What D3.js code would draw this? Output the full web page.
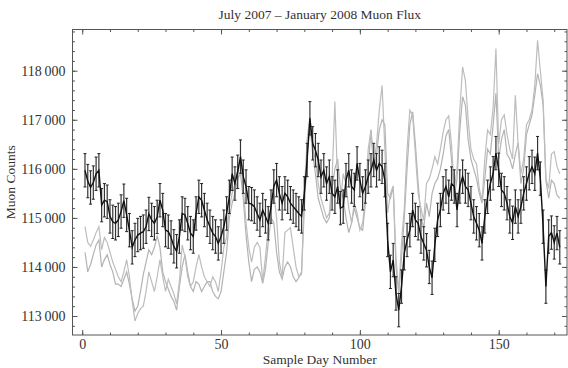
<!DOCTYPE html>
<meta charset="utf-8">

<!-- Load d3.js -->
<script src="https://cdn.jsdelivr.net/npm/d3@7"></script>

<div id="my_dataviz"></div>
<style>
    body {
        margin: 0;
        background-color: #ffffff;
    }
    text {
        font-family: "Liberation Serif", "DejaVu Serif", serif;
        fill: #333;
    }
</style>
<script>

    // muon counts per sample day (black series, with error bars)
    var counts = [
        115970, 115750, 115620, 115720, 115900, 115970, 115260, 115360, 115330, 115030,
        114920, 114890, 114960, 115130, 115350, 115060, 114750, 114400, 114550, 114650,
        114690, 114720, 114820, 115080, 114960, 114890, 115020, 115360, 115160, 114750,
        114720, 114600, 114420, 114320, 114620, 115090, 115060, 114890, 114690, 114620,
        115090, 115430, 115360, 115160, 114960, 114820, 114690, 114620, 114480, 114620,
        114820, 115090, 115430, 115900, 115700, 115940, 116250, 115840, 115640, 115300,
        115280, 115230, 115090, 114960, 115160, 115030, 114890, 115230, 115640, 115770,
        115500, 115300, 115500, 115430, 115300, 115230, 115160, 115090, 115030, 115500,
        116180, 117030, 116520, 116380, 116180, 115840, 115970, 115700, 115840, 115500,
        115430, 115640, 115200, 115230, 115770, 115970, 115640, 115570, 116110, 115770,
        115500, 115640, 115840, 115970, 116180, 115970, 116110, 116040, 115770, 114550,
        113900, 114140, 113460, 113120, 113600, 114280, 114550, 114750, 115160, 114960,
        114890, 114620, 114480, 114340, 114000, 113780, 114450, 114960, 115160, 115500,
        115640, 115430, 115700, 115640, 115160, 115640, 115840, 115640, 115570, 115300,
        115030, 114890, 114750, 114480, 115030, 115430, 115700, 115910, 116320, 115980,
        115570, 115500, 115300, 115030, 114900, 115230, 115030, 115230, 115500, 115700,
        115910, 116040, 115900, 116320, 115800, 114820, 113600, 114620, 114700, 114500,
        114690, 114400
    ];
    var countErr = 340;

    // first gray series
    var grayA = [
        114820, 114500, 114420, 114550, 114700, 114820, 114350, 114600, 114500, 114300,
        114100, 113950, 113800, 113700, 113900, 114150, 113800, 113300, 112900, 113050,
        113150, 113200, 113500, 113900, 113700, 113500, 113800, 114150, 113800, 113500,
        113750, 113600, 113450, 113250, 113700, 114450, 114200, 113800, 113600, 113700,
        114000, 114250, 114000, 113800, 113700, 113600, 113800, 113700, 113500, 113900,
        114400, 114600, 115200, 115500, 115700, 116000, 116200, 115600, 114900, 114400,
        114100, 114400, 114500, 114400, 113700, 114200, 114800, 115200, 115500, 115000,
        114100, 113800, 114700, 114750, 114800, 114400, 114000, 113800, 113850, 115500,
        116600, 117050, 116400, 116200, 115700, 115400, 115200, 115000, 115100, 115800,
        117370, 115700, 115300, 115900, 115700, 115200, 114900, 115300, 115100, 114750,
        114900, 115400, 116400, 116800, 116100, 116500, 117200, 117700, 116400, 115100,
        115500, 115650, 114200, 113500, 114500, 115200, 116400, 117200, 117100, 116300,
        115500, 115200, 114950, 115700, 115800, 116000, 116250, 116100, 116400, 116750,
        117000, 117080, 116500, 115600, 116000, 117200, 118080, 117800, 117000, 116400,
        116200, 116100, 115600, 115350, 116200, 116790, 116700, 117250, 118450, 116500,
        117000, 117100, 116700, 116400, 116200, 117500, 116500, 115900, 116200, 116900,
        117000, 117200, 117700, 118620, 118000, 117400, 115800, 115600, 116300, 116350,
        116050, 115900
    ];

    // second gray series
    var grayB = [
        114300, 113900, 114050, 114250, 114450, 114550, 114000, 114150, 114250, 114050,
        113900, 113650, 113650, 113600, 113750, 113900, 113650, 113350, 113100, 113200,
        113500, 113850, 114100, 114350, 114250, 114400, 114640, 114400, 113900, 113700,
        113550, 113400, 113300, 113120, 113600, 114000, 114250, 113900, 113600, 113500,
        113700, 113650, 113500, 113600, 113700, 113700, 113500, 113400, 113350, 113500,
        113900, 114300, 115000, 115300, 115500, 115800, 115900, 115400, 114650, 114100,
        113700, 113950, 114000, 113900, 113666, 113950, 114500, 115000, 114900, 114300,
        113900, 113750, 114000, 114100, 114000, 113800, 113700, 113780, 113900, 115200,
        116300, 116900, 116300, 115900, 115400, 115200, 115000, 114900, 115000, 115600,
        116000, 116200, 115600, 115400, 115000, 114700, 114890, 115200, 115000, 114800,
        114750, 115300, 116000, 116790, 115975, 116300, 116800, 117000, 116900, 115500,
        115400, 115640, 114000, 113460, 114200, 115000, 116000, 116900, 117160, 116500,
        115700, 115000, 114800, 115300, 115025, 115500, 115700, 115800, 116000, 116300,
        116670, 116800, 116200, 115430, 115800, 116800, 117470, 117300, 116600, 116200,
        116000, 115800, 115500, 115300, 115800, 116400, 116300, 116900, 117540, 116200,
        116600, 116800, 116300, 116200, 116000, 116300, 116530, 115700, 116000, 116700,
        116900, 117100, 117500, 117940, 117700, 117300, 115770, 115400, 115770, 115700,
        115460, 115400
    ];

    var xTicks = [0, 50, 100, 150];
    var yTicks = [113000, 114000, 115000, 116000, 117000, 118000];

    var titleText = "July 2007 \u2013 January 2008 Muon Flux";
    var xLabel = "Sample Day Number";
    var yLabel = "Muon Counts";

    // set the dimensions and margins of the graph
    var margin = { top: 29.5, right: 1, bottom: 33, left: 72.5 },
        width = 568 - margin.left - margin.right,
        height = 368 - margin.top - margin.bottom;

    var svg = d3.select("#my_dataviz")
        .append("svg")
        .attr("width", 568)
        .attr("height", 368)
        .append("g")
        .attr("transform", "translate(" + margin.left + "," + margin.top + ")");

    var x = d3.scaleLinear().domain([-3.5, 174.6]).range([0, width]);
    var y = d3.scaleLinear().domain([112613, 118840]).range([height, 0]);

    var fmt = function (d) { return d3.format(",")(d).replace(",", "\u2009"); };

    // frame ticks: major + minor, on all four sides, pointing inward
    var xMinor = d3.range(0, 175, 10);
    var yMinor = d3.range(112800, 118801, 200);

    function frameAxis(axis, tr) {
        var g = svg.append("g").attr("transform", tr).call(axis);
        g.select(".domain").remove();
        g.selectAll("line").style("stroke", "#555");
        return g;
    }
    frameAxis(d3.axisBottom(x).tickValues(xMinor).tickSize(-2.5).tickFormat(""), "translate(0," + height + ")");
    frameAxis(d3.axisTop(x).tickValues(xMinor).tickSize(-2.5).tickFormat(""), "translate(0,0)");
    frameAxis(d3.axisLeft(y).tickValues(yMinor).tickSize(-2.5).tickFormat(""), "translate(0,0)");
    frameAxis(d3.axisRight(y).tickValues(yMinor).tickSize(-2.5).tickFormat(""), "translate(" + width + ",0)");

    frameAxis(d3.axisBottom(x).tickValues(xTicks).tickSize(-5).tickPadding(4).tickFormat(d3.format("d")), "translate(0," + height + ")");
    frameAxis(d3.axisTop(x).tickValues(xTicks).tickSize(-5).tickFormat(""), "translate(0,0)");
    frameAxis(d3.axisLeft(y).tickValues(yTicks).tickSize(-5).tickPadding(7).tickFormat(fmt), "translate(0,0)");
    frameAxis(d3.axisRight(y).tickValues(yTicks).tickSize(-5).tickFormat(""), "translate(" + width + ",0)");

    svg.selectAll(".tick text")
        .style("font-family", "'Liberation Serif', serif")
        .style("font-size", "14px")
        .style("fill", "#333");

    // frame
    svg.append("rect")
        .attr("width", width)
        .attr("height", height)
        .attr("fill", "none")
        .attr("stroke", "#555")
        .attr("stroke-width", 1);

    var line = d3.line()
        .x(function (d, i) { return x(i + 1); })
        .y(function (d) { return y(d); });

    // gray series
    svg.append("path").datum(grayB)
        .attr("d", line).attr("fill", "none")
        .attr("stroke", "#b3b3b3").attr("stroke-width", 1.2);
    svg.append("path").datum(grayA)
        .attr("d", line).attr("fill", "none")
        .attr("stroke", "#bdbdbd").attr("stroke-width", 1.2);

    // error bars
    var bars = svg.selectAll("mybar")
        .data(counts)
        .enter()
        .append("g");
    bars.append("line")
        .attr("x1", function (d, i) { return x(i + 1); })
        .attr("x2", function (d, i) { return x(i + 1); })
        .attr("y1", function (d) { return y(d - countErr); })
        .attr("y2", function (d) { return y(d + countErr); })
        .attr("stroke", "#333").attr("stroke-width", 1.2);
    bars.append("line")
        .attr("x1", function (d, i) { return x(i + 1) - 1.5; })
        .attr("x2", function (d, i) { return x(i + 1) + 1.5; })
        .attr("y1", function (d) { return y(d + countErr); })
        .attr("y2", function (d) { return y(d + countErr); })
        .attr("stroke", "#222").attr("stroke-width", 1);
    bars.append("line")
        .attr("x1", function (d, i) { return x(i + 1) - 1.5; })
        .attr("x2", function (d, i) { return x(i + 1) + 1.5; })
        .attr("y1", function (d) { return y(d - countErr); })
        .attr("y2", function (d) { return y(d - countErr); })
        .attr("stroke", "#222").attr("stroke-width", 1);

    // black series
    svg.append("path").datum(counts)
        .attr("d", line).attr("fill", "none")
        .attr("stroke", "#111").attr("stroke-width", 1.4);

    // title and axis labels
    svg.append("text")
        .attr("x", width / 2)
        .attr("y", -11)
        .style("text-anchor", "middle")
        .style("font-size", "13.5px")
        .text(titleText);

    svg.append("text")
        .attr("x", width / 2)
        .attr("y", height + 29)
        .style("text-anchor", "middle")
        .style("font-size", "13.5px")
        .text(xLabel);

    svg.append("text")
        .attr("transform", "rotate(-90)")
        .attr("x", -height / 2)
        .attr("y", -58)
        .style("text-anchor", "middle")
        .style("font-size", "13.5px")
        .text(yLabel);

</script>
